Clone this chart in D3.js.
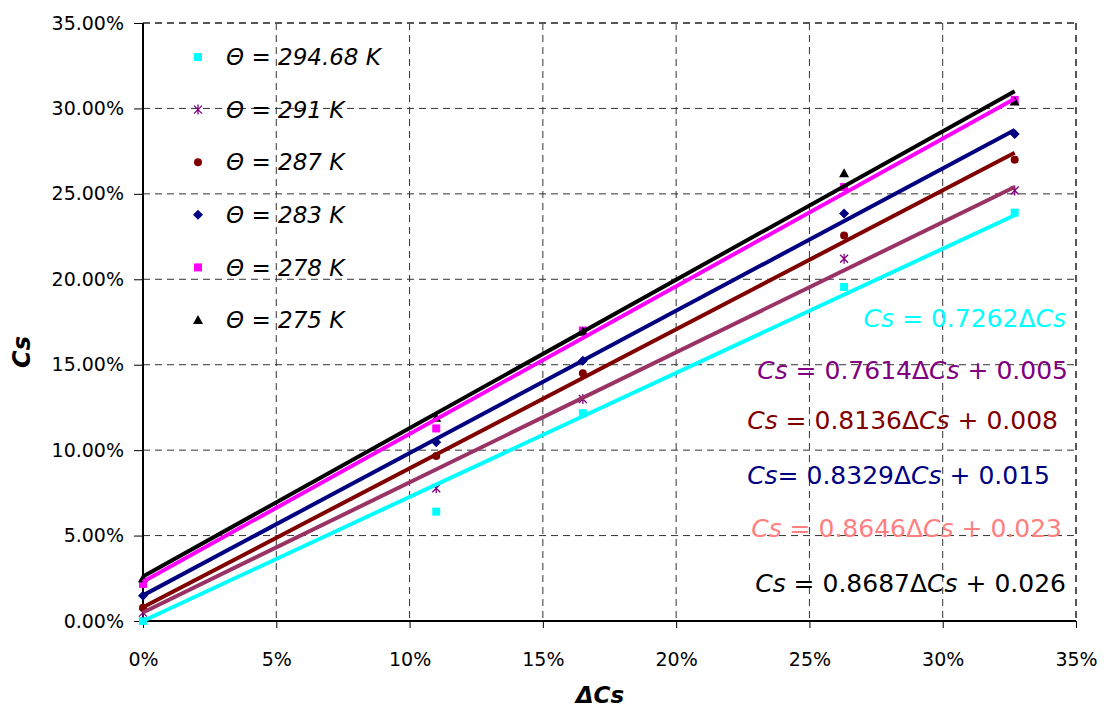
<!DOCTYPE html>
<html>
<head>
<meta charset="utf-8">
<script src="https://cdn.jsdelivr.net/npm/d3@7"></script>
<style>
  html, body { margin: 0; padding: 0; background: #fff; }
  svg { display: block; font-family: "DejaVu Sans", sans-serif; }
</style>
</head>
<body>
<svg id="chart" width="1110" height="713"></svg>
<script>
// Measured ΔCs positions shared by every series
const deltaCs = [0, 0.11, 0.165, 0.263, 0.327];

// Measured Cs values per temperature
const cs29468 = [0.000, 0.064, 0.1216, 0.1955, 0.239];
const cs291   = [0.0049, 0.0777, 0.1299, 0.212, 0.252];
const cs287   = [0.0078, 0.0966, 0.145, 0.2257, 0.270];
const cs283   = [0.0148, 0.1046, 0.1523, 0.2385, 0.285];
const cs278   = [0.0217, 0.1127, 0.170, 0.254, 0.305];
const cs275   = [0.025, 0.119, 0.1693, 0.262, 0.304];

// Linear fits Cs = slope·ΔCs + intercept
const slopes     = [0.7262, 0.7614, 0.8136, 0.8329, 0.8646, 0.8687];
const intercepts = [0, 0.005, 0.008, 0.015, 0.023, 0.026];

const legendLabels = ["Θ = 294.68 K", "Θ = 291 K", "Θ = 287 K", "Θ = 283 K", "Θ = 278 K", "Θ = 275 K"];
const xTicks = [0, 0.05, 0.10, 0.15, 0.20, 0.25, 0.30, 0.35];
const yTicks = [0, 0.05, 0.10, 0.15, 0.20, 0.25, 0.30, 0.35];

const seriesValues = [cs29468, cs291, cs287, cs283, cs278, cs275];
const markerShapes = ["square", "asterisk", "circle", "diamond", "square", "triangle"];
const markerColors = ["#00FFFF", "#800080", "#800000", "#000080", "#FF00FF", "#000000"];
const lineColors   = ["#00FFFF", "#993366", "#800000", "#000080", "#FF00FF", "#000000"];
const eqColors     = ["#00FFFF", "#800080", "#800000", "#000080", "#FF8080", "#000000"];
const eqSep        = [" = ", " = ", " = ", "= ", " = ", " = "];
const eqRight      = [1066, 1068, 1058, 1050, 1062, 1066];
const eqY          = [327, 379, 429, 484, 537, 592];

const svg = d3.select("#chart");
const plot = { left: 143, right: 1076, top: 23, bottom: 621 };

const x = d3.scaleLinear().domain([0, 0.35]).range([plot.left, plot.right]);
const y = d3.scaleLinear().domain([0, 0.35]).range([plot.bottom, plot.top]);

// Dashed grid
const grid = svg.append("g");
grid.selectAll("line.gx").data(xTicks.slice(1)).join("line")
  .attr("x1", d => x(d)).attr("x2", d => x(d))
  .attr("y1", plot.top).attr("y2", plot.bottom)
  .attr("stroke", d => d === 0.35 ? "#555" : "#333")
  .attr("stroke-width", d => d === 0.35 ? 2 : 1)
  .attr("stroke-dasharray", "7,5");
grid.selectAll("line.gy").data(yTicks.slice(1)).join("line")
  .attr("x1", plot.left).attr("x2", plot.right)
  .attr("y1", d => y(d)).attr("y2", d => y(d))
  .attr("stroke", d => d === 0.35 ? "#555" : "#333")
  .attr("stroke-width", d => d === 0.35 ? 2 : 1)
  .attr("stroke-dasharray", "7,5");

// Axes
const xAxis = d3.axisBottom(x).tickValues(xTicks).tickFormat(d3.format(".0%")).tickSize(7).tickPadding(25);
const yAxis = d3.axisLeft(y).tickValues(yTicks).tickFormat(d3.format(".2%")).tickSize(9).tickPadding(10);

const gx = svg.append("g").attr("transform", `translate(0,${plot.bottom})`).call(xAxis);
const gy = svg.append("g").attr("transform", `translate(${plot.left},0)`).call(yAxis);
[gx, gy].forEach(g => {
  g.select(".domain").attr("stroke", "#000").attr("stroke-width", 2);
  g.selectAll(".tick line").attr("stroke", "#000").attr("stroke-width", 1);
  g.selectAll(".tick text").attr("fill", "#000").attr("font-size", 19)
    .attr("font-family", "'DejaVu Sans', sans-serif");
});
gy.select(".domain").attr("d", `M0,${plot.bottom}V${plot.top}`);
gx.select(".domain").attr("d", `M${plot.left},0H${plot.right}`);

// Marker drawing
function drawMarker(g, shape, color) {
  if (shape === "square") {
    g.append("rect").attr("x", -4).attr("y", -4).attr("width", 8).attr("height", 8).attr("fill", color);
  } else if (shape === "circle") {
    g.append("circle").attr("r", 4).attr("fill", color);
  } else if (shape === "diamond") {
    g.append("path").attr("d", "M0,-5L5,0L0,5L-5,0Z").attr("fill", color);
  } else if (shape === "triangle") {
    g.append("path").attr("d", "M0,-5L5,4L-5,4Z").attr("fill", color);
  } else if (shape === "asterisk") {
    g.append("path").attr("d", "M-4,-4L4,4M4,-4L-4,4M0,-5V5")
      .attr("stroke", color).attr("stroke-width", 1.3).attr("fill", "none");
  }
}

// Data markers
seriesValues.forEach((vals, i) => {
  const g = svg.append("g");
  vals.forEach((v, j) => {
    const m = g.append("g").attr("transform", `translate(${x(deltaCs[j])},${y(v)})`);
    drawMarker(m, markerShapes[i], markerColors[i]);
  });
});

// Fitted lines over the data range
const line = d3.line().x(d => x(d[0])).y(d => y(d[1]));
const xMax = d3.max(deltaCs);
slopes.forEach((s, i) => {
  const pts = [0, xMax].map(dx => [dx, s * dx + intercepts[i]]);
  svg.append("path").attr("d", line(pts))
    .attr("stroke", lineColors[i]).attr("stroke-width", 4).attr("fill", "none");
});

// Legend
const legend = svg.append("g");
legendLabels.forEach((lab, i) => {
  const ly = 57 + i * 52.6;
  const m = legend.append("g").attr("transform", `translate(198,${ly})`);
  drawMarker(m, markerShapes[i], markerColors[i]);
  legend.append("text").attr("x", 226).attr("y", ly).attr("dy", "0.36em")
    .attr("font-size", 23).attr("font-style", "italic").attr("fill", "#000").text(lab);
});

// Fit equations
slopes.forEach((s, i) => {
  const t = svg.append("text").attr("x", eqRight[i]).attr("y", eqY[i])
    .attr("text-anchor", "end").attr("font-size", 25).attr("fill", eqColors[i]);
  t.append("tspan").attr("font-style", "italic").text("Cs");
  t.append("tspan").text(eqSep[i] + s.toFixed(4) + "Δ");
  t.append("tspan").attr("font-style", "italic").text("Cs");
  if (intercepts[i] !== 0) t.append("tspan").text(" + " + intercepts[i].toFixed(3));
});

// Axis titles
svg.append("text").attr("x", 600).attr("y", 703).attr("text-anchor", "middle")
  .attr("font-size", 23).attr("font-weight", "bold").attr("font-style", "italic").text("ΔCs");
svg.append("text").attr("transform", "translate(30,352) rotate(-90)").attr("text-anchor", "middle")
  .attr("font-size", 24).attr("font-weight", "bold").attr("font-style", "italic").text("Cs");
</script>
</body>
</html>
